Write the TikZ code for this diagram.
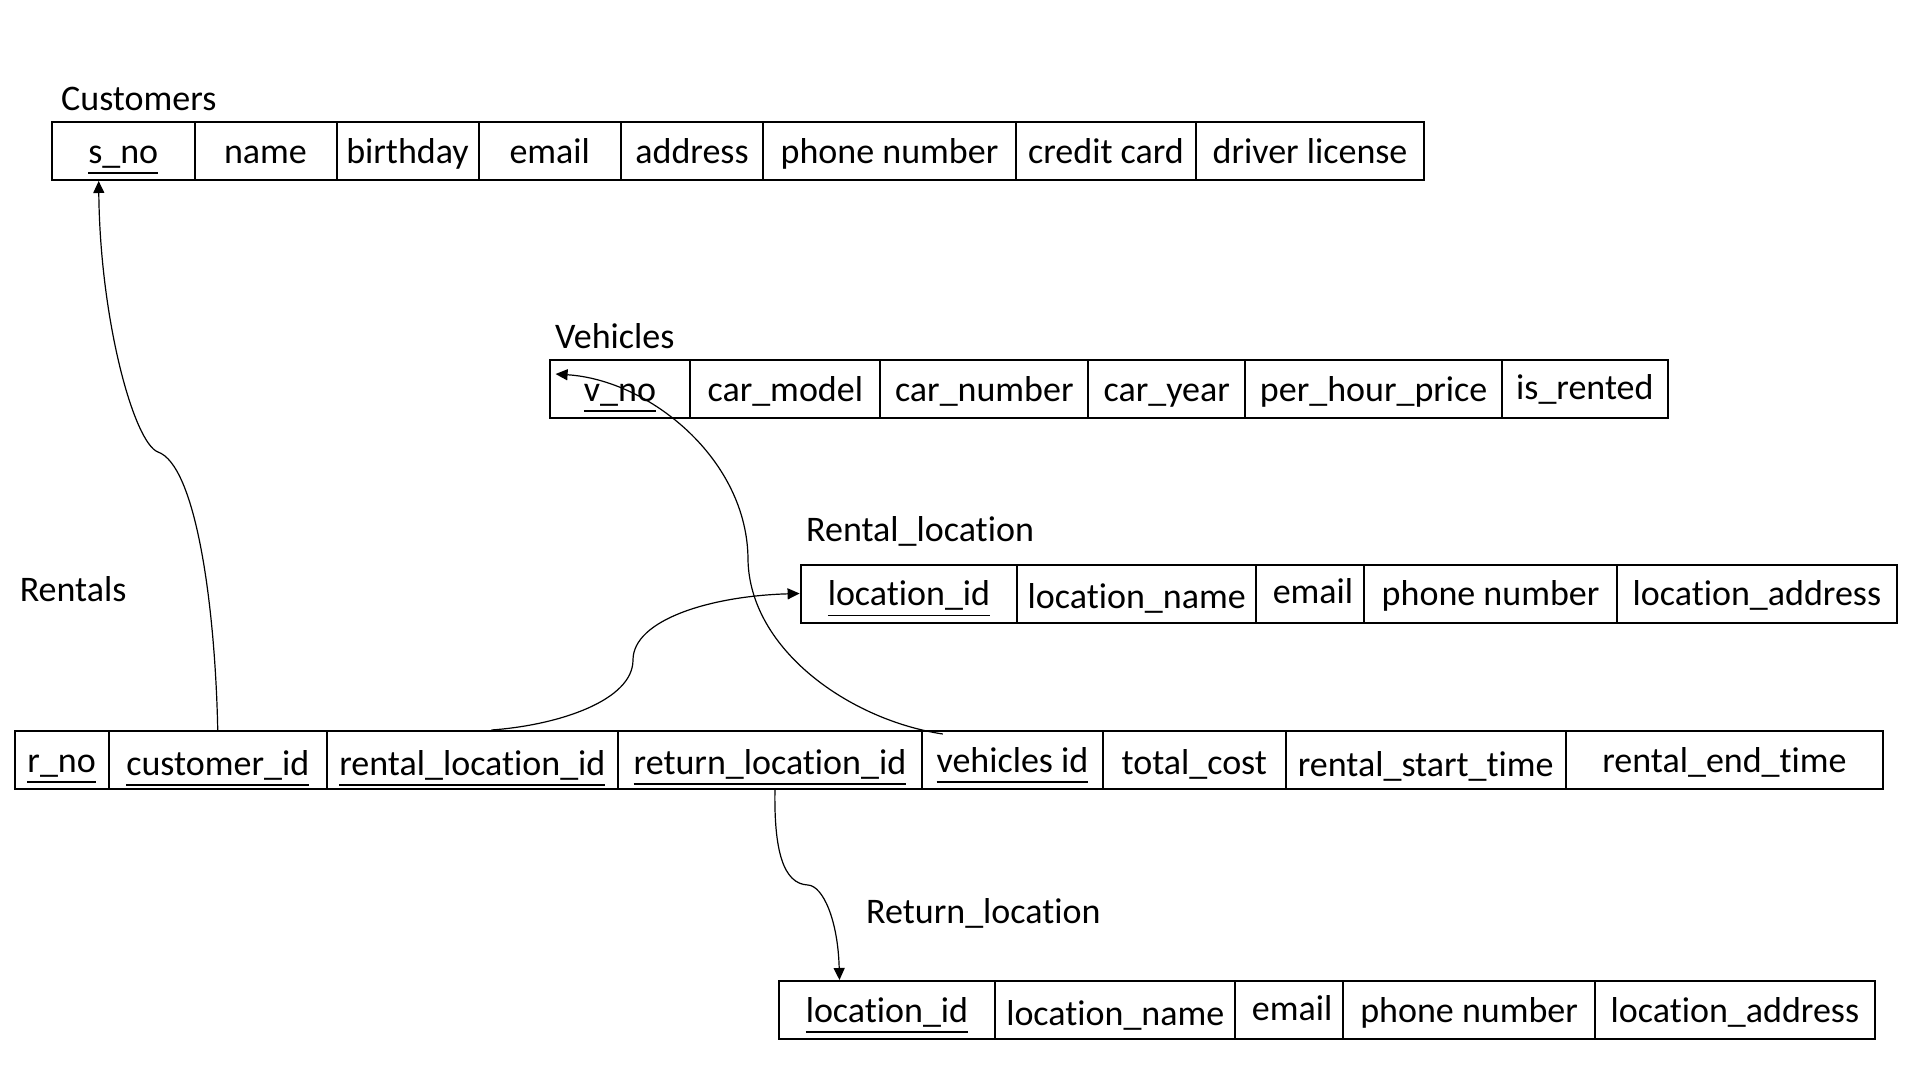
\documentclass[tikz,border=0pt]{standalone}
\usepackage{fontspec}
\setmainfont{Carlito}[Ligatures=NoCommon]
\usetikzlibrary{arrows.meta,calc}
\newsavebox\keybox
\newcommand\keyf[1]{\sbox\keybox{#1}\rlap{\rule[-10.5pt]{\wd\keybox}{1.5pt}}\usebox\keybox}
\begin{document}
\begin{tikzpicture}[x=1pt,y=-1pt,
  font=\fontsize{36}{43}\selectfont,
  cell/.style={draw, line width=2pt, inner sep=0pt, anchor=north west,
    minimum height=58pt, text height=29pt, text depth=5pt},
  title/.style={anchor=base west, inner sep=0pt},
  link/.style={line width=1.2pt, -{Triangle[length=12pt,width=11pt]}}]
\fill[white] (0,0) rectangle (1920,1080);
\useasboundingbox (0,0) rectangle (1920,1080);

% Customers
\node[title] (tcust) at (61,110) {Customers};
\node[cell, minimum width=142.5pt] (sno) at (51,121) {\keyf{s\_no}};
\node[cell, minimum width=142pt] (cname) at (193.5,121) {name};
\node[cell, minimum width=142pt] (cbirth) at (335.5,121) {birthday};
\node[cell, minimum width=142.5pt] (cemail) at (477.5,121) {email};
\node[cell, minimum width=142pt] (caddr) at (620,121) {address};
\node[cell, minimum width=253pt] (cphone) at (762,121) {phone number};
\node[cell, minimum width=180pt] (ccard) at (1015,121) {credit card};
\node[cell, minimum width=228pt] (clic) at (1195,121) {driver license};

% Vehicles
\node[title] (tveh) at (555,348) {Vehicles};
\node[cell, minimum width=140.8pt] (vno) at (548.6,359) {\keyf{v\_no}};
\node[cell, minimum width=189.8pt] (vmodel) at (689.4,359) {car\_model};
\node[cell, minimum width=208.2pt] (vnum) at (879.2,359) {car\_number};
\node[cell, minimum width=156.7pt] (vyear) at (1087.4,359) {car\_year};
\node[cell, minimum width=257.1pt] (vprice) at (1244.1,359) {per\_hour\_price};
\node[cell, minimum width=165.3pt] (vrented) at (1501.2,359) {\raisebox{2pt}{is\_rented}};

% Rental_location
\node[title] (trloc) at (806,541.5) {Rental\_location};
\node[cell, minimum width=216.7pt] (rlocid) at (799.6,563.5) {\keyf{location\_id}};
\node[cell, minimum width=238.8pt] (rlocname) at (1016.3,563.5) {\raisebox{-3pt}{location\_name}};
\node[cell, minimum width=107.8pt] (rlocemail) at (1255.1,563.5) {\hspace{6pt}\raisebox{2pt}{email}};
\node[cell, minimum width=253.4pt] (rlocphone) at (1362.9,563.5) {phone number};
\node[cell, minimum width=279.2pt] (rlocaddr) at (1616.3,563.5) {location\_address};

% Rentals
\node[title] (trent) at (19.6,601) {Rentals};
\node[cell, minimum width=94.3pt] (rno) at (13.5,730) {\keyf{r\_no}};
\node[cell, minimum width=217.9pt] (cid) at (107.8,730) {\raisebox{-3pt}{\keyf{customer\_id}}};
\node[cell, minimum width=291.4pt] (rlid) at (325.7,730) {\raisebox{-3pt}{\keyf{rental\_location\_id}}};
\node[cell, minimum width=303.7pt] (retid) at (617.1,730) {\raisebox{-2pt}{\keyf{return\_location\_id}}};
\node[cell, minimum width=181.3pt] (vid) at (920.8,730) {\keyf{vehicles id}};
\node[cell, minimum width=182.4pt] (tcost) at (1102.1,730) {\raisebox{-2pt}{total\_cost}};
\node[cell, minimum width=280.4pt] (rstart) at (1284.5,730) {\raisebox{-4pt}{rental\_start\_time}};
\node[cell, minimum width=317.2pt] (rend) at (1564.9,730) {rental\_end\_time};

% Return_location
\node[title] (tretloc) at (866,923) {Return\_location};
\node[cell, minimum width=216.7pt] (rtlocid) at (777.6,980) {\keyf{location\_id}};
\node[cell, minimum width=240pt] (rtlocname) at (994.3,980) {\raisebox{-3pt}{location\_name}};
\node[cell, minimum width=107.7pt] (rtlocemail) at (1234.3,980) {\hspace{6pt}\raisebox{2pt}{email}};
\node[cell, minimum width=252.3pt] (rtlocphone) at (1342,980) {phone number};
\node[cell, minimum width=279.2pt] (rtlocaddr) at (1594.3,980) {location\_address};

% Connectors
\draw[link] (cid.north) .. controls (215,600) and (195,465) .. (158,452)
  .. controls (134,443) and (100,320) .. ($(sno.south west)!0.33!(sno.south east)$);
\draw[link] ($(rlid.north)+(19,0)$) .. controls (560,725) and (633,700) .. (633,660)
  .. controls (633,620) and (710,596) .. (rlocid.west);
\draw[link] ($(vid.north west)+(22,4)$) .. controls (850,720) and (750,650) .. (748,560)
  .. controls (748,460) and (650,380) .. ($(vno.north west)+(7,15)$);
\draw[link] ($(retid.south)+(5,0)$) .. controls (774,850) and (783,884) .. (808,885)
  .. controls (823,886) and (838,920) .. ($(rtlocid.north west)!0.283!(rtlocid.north east)$);
\end{tikzpicture}
\end{document}
